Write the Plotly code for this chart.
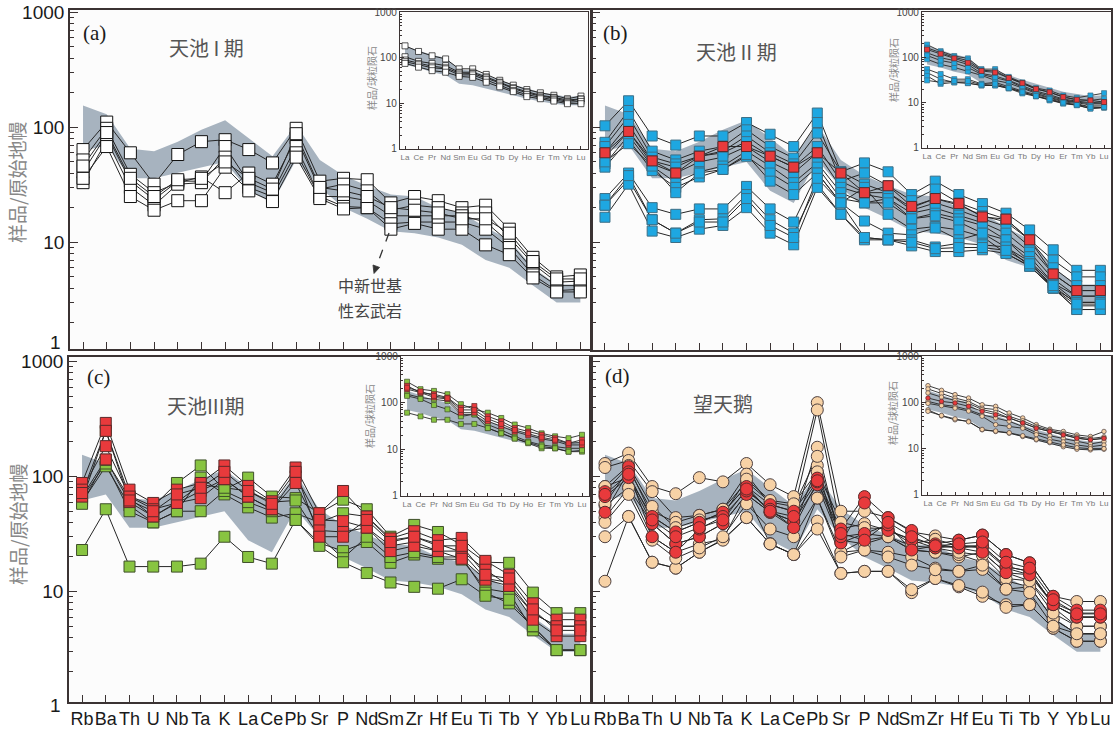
import plotly.graph_objects as go

W, H = 1118, 736

# ---------------- categories ----------------
TE = ["Rb", "Ba", "Th", "U", "Nb", "Ta", "K", "La", "Ce", "Pb", "Sr", "P", "Nd", "Sm",
      "Zr", "Hf", "Eu", "Ti", "Tb", "Y", "Yb", "Lu"]
REE = ["La", "Ce", "Pr", "Nd", "Sm", "Eu", "Gd", "Tb", "Dy", "Ho", "Er", "Tm", "Yb", "Lu"]

# ---------------- Miocene basalt envelopes ----------------
band_te_upper = [155, 130, 65, 62, 75, 95, 115, 80, 56, 105, 52, 38, 31, 26, 25, 20, 18, 13.5, 10.5, 6.0, 4.3, 4.3]
band_te_lower = [62, 70, 36, 36, 40, 45, 50, 28, 22, 52, 30, 20, 16, 12.5, 12, 11, 9.5, 7.0, 6.0, 4.2, 3.0, 3.0]
band_ree_upper = [180, 145, 115, 100, 55, 52, 40, 32, 26, 21, 17.5, 15.5, 14, 14.5]
band_ree_lower = [70, 60, 48, 42, 27, 25, 21, 18, 15, 12.6, 11, 9.8, 9.1, 9.1]

# ---------------- (a) Tianchi stage I ----------------
a_s1 = [64, 111, 60, 32, 58, 75, 78, 64, 49, 98, 34, 36, 35, 22, 25, 23, 20, 21, 13, 7.4, 5.0, 5.2]
a_s2 = [52, 98, 39, 27, 33, 37, 27, 40, 32, 81, 29, 32, 28, 19, 21, 20, 18, 18, 11, 6.5, 4.5, 4.6]
a_s3 = [41, 86, 34, 23.5, 34, 34, 68, 33, 27, 68, 25, 25, 23, 17, 17, 17, 17, 15, 10, 5.8, 4.2, 4.2]
a_s4 = [33, 77, 30, 21, 32, 33, 55, 30, 25, 60, 25, 20.5, 20, 14.5, 15, 15, 15, 13, 9, 5.2, 3.8, 3.9]
a_s5 = [36, 68, 25, 19, 23, 23, 45, 28, 22.6, 55, 24, 19.5, 20, 13, 14.6, 13, 13, 9.5, 7.8, 4.9, 3.7, 3.7]
a_s6 = [46, 90, 36, 25, 35, 36, 50, 36, 29, 88, 30, 28, 25, 20, 19, 18, 16, 16, 12, 6.8, 4.8, 4.8]

ia_s1 = [182, 137, 110, 94, 57, 57, 43, 32, 25, 20, 17, 15, 12.6, 14.4]
ia_s2 = [105, 83, 75, 67, 48, 48, 38, 29, 22, 18, 15, 13.5, 11.8, 12.5]
ia_s3 = [89, 75, 65, 60, 46, 45, 36, 28, 21, 17, 14.4, 13, 11, 12.3]
ia_s4 = [82, 70, 60, 57, 42, 42, 33, 25, 19, 15.5, 13.5, 12, 10.5, 11]
ia_s5 = [75, 62, 52, 48, 39, 37, 29, 23, 18, 14, 12.6, 11.2, 9.8, 9.8]

# ---------------- (b) Tianchi stage II ----------------
b_u1 = [103, 170, 84, 70, 84, 84, 110, 87, 68, 133, 41, 49, 41, 26, 34, 26, 21.7, 17.9, 12.8, 8.6, 5.7, 5.7]
b_u2 = [74, 140, 62, 52, 62, 68, 95, 68, 54, 110, 34, 40, 31, 23, 29, 22, 18.5, 15.9, 10.5, 7.0, 5.0, 5.0]
b_u3 = [68, 124, 55, 48, 56, 62, 84, 60, 48, 89, 41, 32, 27, 20, 24, 21, 17, 15, 10.5, 6.0, 4.2, 4.2]
b_u4 = [60, 106, 51, 45, 56, 60, 75, 56, 45, 68, 34, 27, 27, 19, 22, 19, 16, 13.7, 9.2, 5.3, 3.8, 3.8]
b_u5 = [55, 92, 48, 40, 50, 55, 68, 50, 40, 60, 30, 26, 24, 17.9, 19.8, 17.2, 14.8, 12, 8.2, 4.8, 3.4, 3.4]
b_u6 = [48, 85, 46, 33, 41, 46, 62, 46, 33, 49, 27, 22, 24, 16, 17.9, 16, 14, 10.5, 7.5, 4.4, 3.4, 3.4]
b_u7 = [45, 78, 42, 30, 37, 43, 56, 40, 30, 45, 24, 22, 22, 16, 17, 15, 12, 9.1, 6.8, 4.0, 3.0, 3.0]
b_u8 = [50, 72, 46, 27, 40, 43, 58, 34, 26, 40, 22, 30, 17.5, 13, 13.7, 12.8, 11.2, 8, 6.2, 4.0, 2.6, 2.6]
b_l1 = [24, 40, 20, 17.5, 19.5, 19.5, 30.6, 19.5, 15, 40, 22, 15.3, 12, 11.6, 13.3, 10.5, 12, 10.5, 6.8, 4.4, 3.0, 3.0]
b_l2 = [21, 35, 15.7, 12, 15.7, 16, 26, 15.7, 12, 32, 17.5, 11, 10.5, 10.5, 9.1, 9.8, 9.5, 9.1, 6.2, 4.0, 2.8, 2.8]
b_l3 = [16.5, 32, 12.5, 11, 13, 14, 20, 12, 9.5, 30, 17.5, 10.5, 10.5, 9.3, 8.3, 8.3, 8.6, 8, 6.2, 4.0, 2.6, 2.6]
b_l4 = [21, 38, 15.7, 12, 15, 15, 24, 14, 11, 36, 22, 11, 10.5, 10, 8.8, 9, 9, 8.5, 6.5, 4.2, 2.9, 2.9]
b_mean = [60, 92, 51, 40, 56, 68, 68, 56, 45, 60, 40, 27, 31, 20.5, 24, 21.7, 16.6, 15.9, 10.5, 5.3, 3.8, 3.8]

ib_s1 = [191, 137, 107, 95, 55, 55, 37, 28, 21, 18.5, 14.4, 12.8, 14.4, 16.2]
ib_s2 = [162, 128, 100, 85, 52, 50, 35, 27, 20, 17, 13.3, 11.6, 11.2, 12.2]
ib_s3 = [126, 98, 85, 70, 44, 39, 31, 24, 18, 15, 12, 10.8, 10, 10.3]
ib_s4 = [91, 70, 60, 49, 40, 31, 27, 21, 16, 13, 11, 10, 8.8, 8.8]
ib_s5 = [110, 85, 75, 60, 42, 36, 30, 22, 17, 14, 11.5, 10.3, 9.5, 9.5]
ib_s6 = [55, 43, 33, 33, 26, 28, 22, 18, 15, 12.6, 10.5, 9.5, 8.0, 7.8]
ib_s7 = [46, 33, 28, 27, 24, 24, 21, 17, 14, 11.5, 9.8, 8.8, 7.4, 7.8]
ib_s8 = [39, 26, 28, 27, 24, 24, 20.5, 16, 13.7, 11.2, 9.5, 8.8, 7.4, 7.8]
ib_s9 = [31, 28, 30, 30, 25, 26, 21, 17, 14, 12, 10, 9, 8, 8]
ib_mean = [149, 120, 95, 76, 50, 46.5, 35, 27, 20, 17, 13.3, 11.6, 11.2, 10.3]

# ---------------- (c) Tianchi stage III ----------------
c_g1 = [62, 250, 68, 55, 88, 125, 77, 98, 67, 65, 48, 63, 52, 30, 38, 33, 25.5, 18, 17.8, 9.8, 6.5, 6.5]
c_g2 = [60, 123, 56, 40, 50, 98, 70, 54, 44, 48, 40, 48, 45, 28, 30, 26, 22, 13, 12, 6.5, 5.0, 5.0]
c_g3 = [65, 130, 50, 40, 50, 50, 75, 60, 50, 42, 26.5, 22.5, 27, 17.8, 21, 19.3, 19, 10.6, 9.8, 4.6, 3.1, 3.1]
c_g4 = [58, 140, 65, 45, 60, 85, 80, 75, 60, 62, 30, 19.5, 30, 20, 22, 20, 20, 9.8, 7.9, 5.0, 3.1, 3.1]
c_g5 = [23, 52, 16.5, 16.5, 16.5, 17.5, 30, 20, 17.5, 42, 25, 18, 14.5, 12, 11, 10.6, 12.8, 9.2, 8.5, 5.0, 3.1, 3.1]
c_r1 = [88, 293, 77, 59, 77, 88, 125, 83, 61, 120, 48, 75, 45, 29, 33.5, 28, 29.3, 18.5, 14, 7.9, 5.7, 5.7]
c_r2 = [77, 184, 67, 52, 59, 75, 95, 67, 52, 101, 42, 41, 36, 25, 27, 22.5, 22.5, 15.5, 11.2, 6.5, 5.0, 5.0]
c_r3 = [67, 141, 60, 45, 59, 65, 95, 67, 52, 88, 34, 33, 36, 22.5, 25, 22.5, 19.3, 12.7, 11.2, 5.7, 4.1, 4.1]
c_r4 = [72, 250, 62, 50, 70, 80, 110, 75, 58, 110, 30, 30, 42, 27, 30, 25, 25, 14, 13, 7, 4.6, 4.6]

ic_g1 = [282, 195, 179, 152, 93, 72, 61, 47, 34, 28.5, 22, 19, 17.3, 20.5]
ic_g2 = [152, 129, 118, 109, 56, 56, 34, 26, 19, 14.7, 12.4, 11.4, 10.5, 10.5]
ic_g3 = [140, 120, 89, 72, 51, 56, 28.5, 22, 17, 13.5, 10.5, 10.5, 8.9, 8.9]
ic_g4 = [61, 51, 43, 43, 35, 35, 28.5, 22, 17, 14, 11.5, 10.5, 8.9, 9.5]
ic_r1 = [230, 165, 152, 129, 78, 85, 51, 40, 28.5, 24, 20.5, 17.3, 13.5, 16]
ic_r2 = [195, 165, 130, 120, 61, 61, 40, 31, 24, 20, 16.7, 15, 12.4, 12.4]
ic_r3 = [210, 175, 140, 125, 70, 70, 45, 35, 26, 22, 18, 16, 13.5, 14]

# ---------------- (d) Wangtiane ----------------
d_p1 = [130, 160, 82, 71, 98, 90, 130, 85, 67, 440, 50, 50, 44, 33, 30.5, 28, 31, 21, 17.8, 9.1, 8.2, 8.2]
d_p2 = [120, 138, 74, 44, 46, 52, 105, 57, 50, 380, 35, 39, 34, 28.5, 26, 24, 25, 16.5, 15, 7.7, 6.0, 6.0]
d_p3 = [82, 98, 45, 33, 40, 49, 82, 49, 41, 180, 26.5, 32, 30, 23, 22, 20, 22, 14.6, 12.4, 7.3, 5.0, 5.0]
d_p4 = [56, 80, 39, 26, 30, 39, 70, 49, 36, 125, 22, 28, 30, 23, 22, 21, 18, 12.4, 11, 5.8, 4.3, 4.3]
d_p5 = [44, 80, 30, 22, 26, 28.5, 70, 26, 21, 65, 22, 23, 22, 20, 16, 15, 15.6, 10.5, 11, 5.8, 4.3, 4.3]
d_p6 = [30, 45, 18, 16, 22, 28.5, 44, 26, 21, 41, 14.4, 15, 15, 9.8, 13, 11, 9.1, 7.7, 7.7, 4.8, 3.7, 3.7]
d_p7 = [12.3, 45, 18, 16, 22, 28, 44, 26, 21, 35, 14.4, 15, 15, 10.4, 13, 11.3, 9.9, 7.3, 7.7, 4.8, 3.7, 3.7]
d_p8 = [58, 115, 50, 40, 46, 52, 90, 60, 55, 150, 28, 26, 30, 25, 24, 22, 20.7, 13, 12.4, 6.5, 5.0, 5.0]
d_p9 = [82, 125, 55, 36, 42, 46, 95, 62, 58, 110, 40, 36, 35, 26, 28.5, 25, 24, 16, 14, 8, 6.5, 6.5]
d_p10 = [40, 70, 28, 19.5, 24, 30, 58, 35, 30, 65, 20, 23, 20, 17, 15.5, 15, 17, 10.5, 9.8, 5.0, 4.3, 4.3]
d_r1 = [74, 122, 45, 33, 40, 49, 82, 57, 50, 97, 35, 67, 44, 34, 26, 28, 31, 21, 17.8, 9.1, 6.9, 6.9]
d_r2 = [67, 98, 39, 26, 30, 39, 70, 49, 41, 85, 26.5, 59, 34, 28, 24, 25, 25, 16.5, 15, 7.7, 6.0, 6.0]
d_r3 = [49, 110, 30, 22, 35, 45, 75, 52, 36, 90, 30, 32, 38, 23, 25, 24, 22, 14.6, 14, 7.7, 6.0, 6.0]
d_r4 = [70, 105, 42, 30, 36, 42, 78, 50, 45, 92, 32, 28, 40, 30, 25, 26, 27, 18, 16, 8.5, 6.4, 6.4]

id_s1 = [230, 182, 147, 124, 89, 82, 59, 46, 33, 26.3, 23.5, 19.8, 18.3, 23.5]
id_s2 = [195, 155, 124, 105, 75, 70, 50, 40, 30, 25, 21, 18, 16.5, 18]
id_s3 = [160, 130, 110, 95, 70, 60, 46, 36, 28, 23.5, 19.8, 17, 15.5, 16.7]
id_s4 = [105, 89, 82, 69, 54, 46, 39, 30, 22.3, 19, 16.7, 14.2, 12.6, 14.2]
id_s5 = [95, 85, 75, 65, 50, 33, 30, 27.6, 20, 16, 14, 12, 11, 12]
id_s6 = [69, 51, 42, 39, 25.5, 23.5, 21.6, 18.3, 15.5, 13.5, 11, 9.7, 9.4, 9.7]
id_s7 = [64, 52, 44, 38, 26, 24, 22, 19, 16, 14, 12, 10.5, 10, 10]
id_r1 = [124, 105, 97, 82, 64, 54, 46, 36, 27.6, 23.5, 19.8, 16.7, 15.5, 16.7]

# ---------------- styles ----------------
LINE = "#262626"
BAND = "#a7b3bf"
WHITE = ("#ffffff", "#111111")
BLUE = ("#1ea7e1", "#3d6f86")
RED = ("#e83a3c", "#5b2a2a")
GREEN = ("#88c441", "#3f4f2a")
PEACH = ("#f7d2a6", "#4d4040")
FRAME = "#3b3333"

xs_te = list(range(len(TE)))
xs_ree = list(range(len(REE)))

traces = []


def add_panel(xa, ya, xs, bu, bl, groups, lw, size):
    traces.append(go.Scatter(x=xs + xs[::-1], y=bu + bl[::-1], fill="toself", fillcolor=BAND,
                             line=dict(width=0), mode="lines", xaxis=xa, yaxis=ya,
                             hoverinfo="skip", showlegend=False))
    for series, _, _ in groups:
        for s in series:
            traces.append(go.Scatter(x=xs, y=s, mode="lines", line=dict(color=LINE, width=lw),
                                     xaxis=xa, yaxis=ya, hoverinfo="skip", showlegend=False))
    for series, col, sym in groups:
        xx, yy = [], []
        for s in series:
            xx += xs
            yy += s
        traces.append(go.Scatter(x=xx, y=yy, mode="markers",
                                 marker=dict(symbol=sym, size=size, color=col[0],
                                             line=dict(color=col[1], width=1 if size > 6 else 0.7)),
                                 xaxis=xa, yaxis=ya, hoverinfo="skip", showlegend=False))


# main panels
add_panel("x", "y", xs_te, band_te_upper, band_te_lower,
          [([a_s1, a_s2, a_s3, a_s4, a_s5, a_s6], WHITE, "square")], 1.0, 12)
add_panel("x2", "y2", xs_te, band_te_upper, band_te_lower,
          [([b_u1, b_u2, b_u3, b_u4, b_u5, b_u6, b_u7, b_u8, b_l1, b_l2, b_l3, b_l4], BLUE, "square"),
           ([b_mean], RED, "square")], 1.0, 10)
add_panel("x3", "y3", xs_te, band_te_upper, band_te_lower,
          [([c_g1, c_g2, c_g3, c_g4, c_g5], GREEN, "square"),
           ([c_r1, c_r2, c_r3, c_r4], RED, "square")], 1.0, 11)
add_panel("x4", "y4", xs_te, band_te_upper, band_te_lower,
          [([d_p1, d_p2, d_p3, d_p4, d_p5, d_p6, d_p7, d_p8, d_p9, d_p10], PEACH, "circle"),
           ([d_r1, d_r2, d_r3, d_r4], RED, "circle")], 1.0, 12)
# insets
add_panel("x5", "y5", xs_ree, band_ree_upper, band_ree_lower,
          [([ia_s1, ia_s2, ia_s3, ia_s4, ia_s5], WHITE, "square")], 1.0, 6)
add_panel("x6", "y6", xs_ree, band_ree_upper, band_ree_lower,
          [([ib_s1, ib_s2, ib_s3, ib_s4, ib_s5, ib_s6, ib_s7, ib_s8, ib_s9], BLUE, "square"),
           ([ib_mean], RED, "square")], 0.9, 5)
add_panel("x7", "y7", xs_ree, band_ree_upper, band_ree_lower,
          [([ic_g1, ic_g2, ic_g3, ic_g4], GREEN, "square"),
           ([ic_r1, ic_r2, ic_r3], RED, "square")], 0.9, 5)
add_panel("x8", "y8", xs_ree, band_ree_upper, band_ree_lower,
          [([id_s1, id_s2, id_s3, id_s4, id_s5, id_s6, id_s7], PEACH, "circle"),
           ([id_r1], RED, "circle")], 0.9, 4.5)

fig = go.Figure(traces)


def dx(x0, x1):
    return [x0 / W, x1 / W]


def dy(y0, y1):
    return [1 - y1 / H, 1 - y0 / H]


minor_vals = [m * 10 ** e for e in range(0, 3) for m in range(2, 10)]

layout = dict(width=W, height=H, margin=dict(l=0, r=0, t=0, b=0),
              paper_bgcolor="white", plot_bgcolor="#fcfcfc", showlegend=False)

SANS = "Liberation Sans, Arial, sans-serif"
YR_INSET = [-0.002, 3.002]

# (key, x px span, y px span, show x labels, show y labels, y range)
mains = [("", (70, 591), (10, 349), False, True, [0.072, 3.02]),
         ("2", (592, 1111), (10, 350), False, False, [0.063, 3.02]),
         ("3", (69, 591), (357, 702), True, True, [0.04, 3.04]),
         ("4", (592, 1111), (357, 702), True, False, [0.04, 3.04])]
for k, xr, yr, xl, yl, rng in mains:
    layout["xaxis" + k] = dict(domain=dx(*xr), anchor="y" + k, range=[-0.55, 21.45],
                               tickmode="array", tickvals=xs_te, ticktext=TE, tickangle=0,
                               showticklabels=xl, ticks="inside", ticklen=7, tickwidth=1.2,
                               tickcolor=FRAME, showline=True, mirror=True, linecolor=FRAME,
                               linewidth=1.6, showgrid=False, zeroline=False,
                               tickfont=dict(family=SANS, size=18, color="#1a1a1a"),
                               ticklabeloverflow="allow", automargin=False)
    layout["yaxis" + k] = dict(domain=dy(*yr), anchor="x" + k, type="log", range=rng,
                               tickmode="array", tickvals=[1, 10, 100, 1000],
                               ticktext=["1", "10", "100", "1000"], showticklabels=yl,
                               ticks="inside", ticklen=8, tickwidth=1.2, tickcolor=FRAME,
                               minor=dict(tickmode="array", tickvals=minor_vals, ticks="inside",
                                          ticklen=4, tickwidth=1, tickcolor=FRAME),
                               showline=True, mirror=True, linecolor=FRAME, linewidth=1.6,
                               showgrid=False, zeroline=False,
                               tickfont=dict(family=SANS, size=19, color="#1a1a1a"),
                               ticklabeloverflow="allow", automargin=False)

insets = [("5", (400, 588), (12, 149), [-0.37, 13.52]),
          ("6", (922, 1111), (12, 148), [-0.37, 13.51]),
          ("7", (401, 589), (356, 496), [-0.45, 13.52]),
          ("8", (922, 1111), (356, 495), [-0.44, 13.52])]
for k, xr, yr, rng in insets:
    layout["xaxis" + k] = dict(domain=dx(*xr), anchor="y" + k, range=rng,
                               tickmode="array", tickvals=xs_ree, ticktext=REE, tickangle=0,
                               ticks="inside", ticklen=3, tickwidth=1, tickcolor=FRAME,
                               showline=True, mirror=True, linecolor=FRAME, linewidth=1.4,
                               showgrid=False, zeroline=False,
                               tickfont=dict(family=SANS, size=8, color="#777777"),
                               ticklabeloverflow="allow", automargin=False)
    layout["yaxis" + k] = dict(domain=dy(*yr), anchor="x" + k, type="log", range=YR_INSET,
                               tickmode="array", tickvals=[1, 10, 100, 1000],
                               ticktext=["1", "10", "100", "1000"],
                               ticks="inside", ticklen=4, tickwidth=1, tickcolor=FRAME,
                               minor=dict(tickmode="array", tickvals=minor_vals, ticks="inside",
                                          ticklen=2, tickwidth=0.8, tickcolor=FRAME),
                               showline=True, mirror=True, linecolor=FRAME, linewidth=1.4,
                               showgrid=False, zeroline=False,
                               tickfont=dict(family=SANS, size=10, color="#444444"),
                               ticklabeloverflow="allow", automargin=False)

fig.update_layout(**layout)

CJK = "Noto Sans CJK SC"
SERIF = "Liberation Serif, Times New Roman, serif"


def ann(text, x, y, size, color, family, angle=0, xanchor="center"):
    fig.add_annotation(text=text, x=x / W, y=1 - y / H, xref="paper", yref="paper",
                       showarrow=False, textangle=angle, xanchor=xanchor, yanchor="middle",
                       font=dict(family=family, size=size, color=color))


# "1" labels at the clipped bottoms of the left panels
ann("1", 63, 342, 19, "#1a1a1a", SANS, xanchor="right")
ann("1", 63, 705, 19, "#1a1a1a", SANS, xanchor="right")
# panel letters
ann("(a)", 94, 33, 21, "#1a1a1a", SERIF)
ann("(b)", 616, 33, 21, "#1a1a1a", SERIF)
ann("(c)", 98, 377, 21, "#1a1a1a", SERIF)
ann("(d)", 617, 376, 21, "#1a1a1a", SERIF)
# panel titles
ann("天池 I 期", 206, 48, 20, "#555555", CJK)
ann("天池 II 期", 736, 52, 20, "#555555", CJK)
ann("天池III期", 206, 405, 20, "#555555", CJK)
ann("望天鹅", 723, 403, 20, "#555555", CJK)
# y titles
ann("样品/原始地幔", 17, 183, 19, "#888888", CJK, -90)
ann("样品/原始地幔", 17, 525, 19, "#888888", CJK, -90)
ann("样品/球粒陨石", 372, 78, 10, "#888888", CJK, -90)
ann("样品/球粒陨石", 893, 70, 10, "#888888", CJK, -90)
ann("样品/球粒陨石", 370, 416, 10, "#888888", CJK, -90)
ann("样品/球粒陨石", 892, 413, 10, "#888888", CJK, -90)
# basalt note (two lines)
ann("中新世基", 370, 285, 16, "#444444", CJK)
ann("性玄武岩", 370, 310, 16, "#444444", CJK)

# dashed leader with a drawn arrowhead
fig.add_shape(type="line", xref="paper", yref="paper",
              x0=389 / W, y0=1 - 233 / H, x1=376.6 / W, y1=1 - 266 / H,
              line=dict(color="#333333", width=1.3, dash="dash"))
tip = (374.0, 273.5)
b1 = (379.6, 267.4)
b2 = (373.0, 265.0)


def pp(p):
    return f"{p[0] / W:.5f},{1 - p[1] / H:.5f}"


fig.add_shape(type="path", xref="paper", yref="paper",
              path=f"M {pp(tip)} L {pp(b1)} L {pp(b2)} Z",
              fillcolor="#333333", line=dict(color="#333333", width=0.8))

fig.write_html("out.html", config={"displayModeBar": False},
               post_script="document.body.style.margin='0';document.body.style.overflow='hidden';"
                           "document.documentElement.style.overflow='hidden';")
